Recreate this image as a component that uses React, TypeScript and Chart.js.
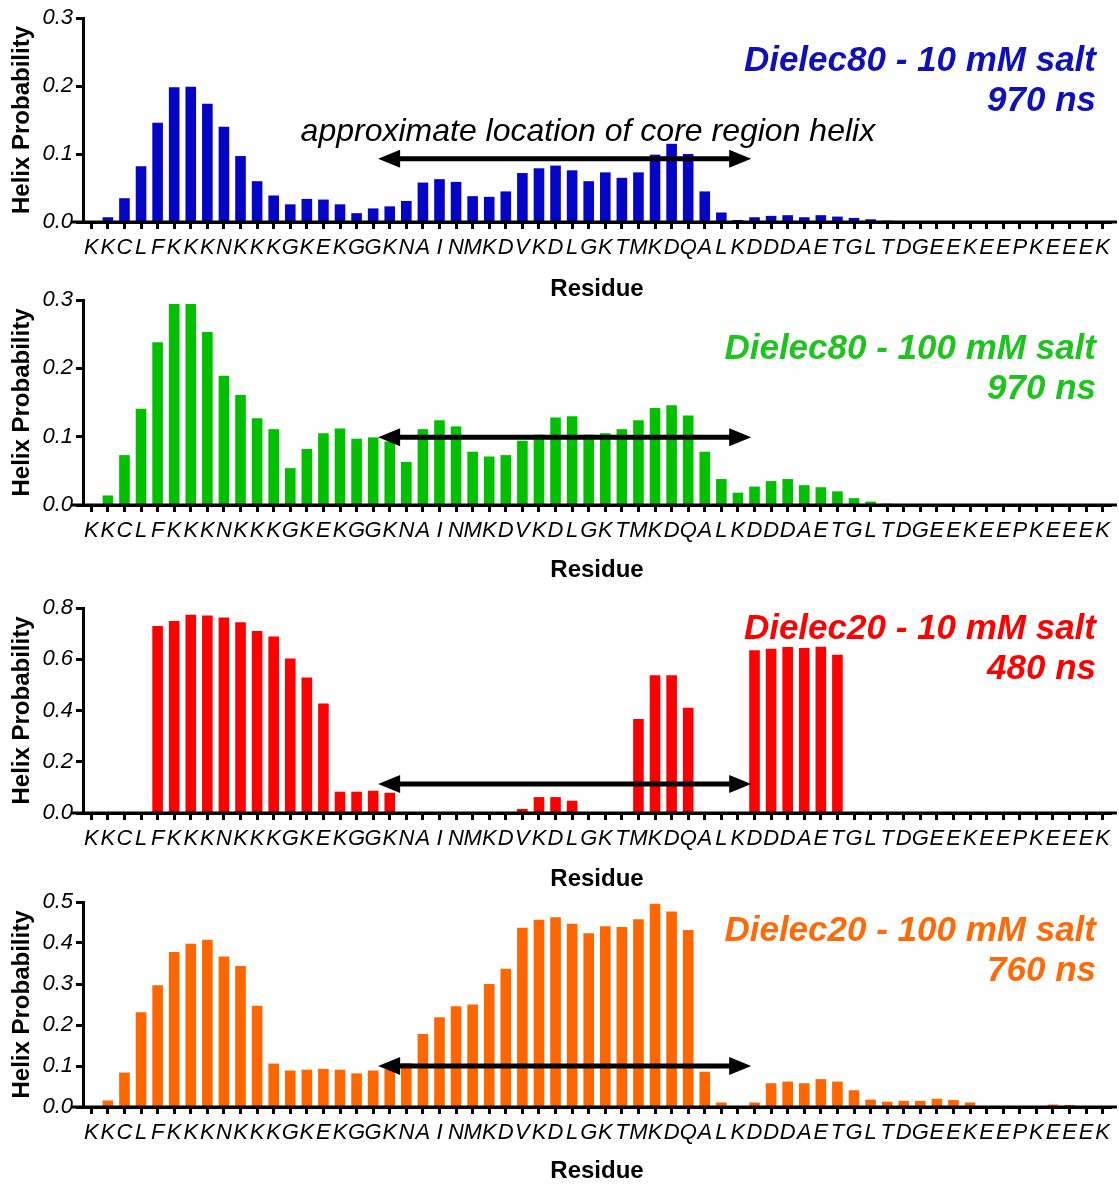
import React, { useEffect, useRef } from 'react';
import { Chart, registerables } from 'chart.js';

Chart.register(...registerables);

const FONT = '"Liberation Sans", Arial, Helvetica, sans-serif';

// ---------------- data ----------------
const residues = [
  'K', 'K', 'C', 'L', 'F', 'K', 'K', 'K', 'N', 'K',
  'K', 'K', 'G', 'K', 'E', 'K', 'G', 'G', 'K', 'N',
  'A', 'I', 'N', 'M', 'K', 'D', 'V', 'K', 'D', 'L',
  'G', 'K', 'T', 'M', 'K', 'D', 'Q', 'A', 'L', 'K',
  'D', 'D', 'D', 'A', 'E', 'T', 'G', 'L', 'T', 'D',
  'G', 'E', 'E', 'K', 'E', 'E', 'P', 'K', 'E', 'E',
  'E', 'K',
];

const dielec80Salt10 = [
  0, 0.007, 0.035, 0.082, 0.146, 0.198, 0.199, 0.174, 0.140, 0.097,
  0.060, 0.039, 0.026, 0.034, 0.033, 0.026, 0.013, 0.020, 0.023, 0.031,
  0.058, 0.063, 0.059, 0.038, 0.037, 0.045, 0.072, 0.079, 0.083, 0.076,
  0.060, 0.073, 0.065, 0.073, 0.099, 0.115, 0.100, 0.045, 0.014, 0.003,
  0.007, 0.009, 0.010, 0.007, 0.010, 0.008, 0.006, 0.004, 0.002, 0,
  0, 0, 0, 0, 0, 0, 0, 0, 0, 0,
  0, 0,
];

const dielec80Salt100 = [
  0, 0.014, 0.073, 0.141, 0.238, 0.294, 0.294, 0.253, 0.189, 0.161,
  0.127, 0.111, 0.054, 0.082, 0.105, 0.112, 0.097, 0.099, 0.093, 0.063,
  0.111, 0.124, 0.115, 0.078, 0.071, 0.073, 0.094, 0.103, 0.128, 0.130,
  0.103, 0.105, 0.111, 0.124, 0.142, 0.146, 0.131, 0.078, 0.038, 0.018,
  0.027, 0.035, 0.038, 0.029, 0.026, 0.020, 0.010, 0.005, 0.002, 0,
  0, 0, 0, 0, 0, 0, 0, 0, 0.001, 0.001,
  0, 0,
];

const dielec20Salt10 = [
  0, 0, 0, 0, 0.730, 0.749, 0.774, 0.771, 0.763, 0.744,
  0.710, 0.689, 0.603, 0.529, 0.427, 0.083, 0.083, 0.087, 0.079, 0.003,
  0, 0, 0, 0, 0, 0, 0.016, 0.062, 0.062, 0.048,
  0, 0, 0, 0.367, 0.538, 0.538, 0.411, 0, 0, 0,
  0.635, 0.641, 0.648, 0.644, 0.649, 0.618, 0.003, 0.002, 0, 0,
  0, 0, 0, 0, 0, 0, 0, 0, 0, 0,
  0, 0,
];

const dielec20Salt100 = [
  0, 0.016, 0.084, 0.231, 0.297, 0.378, 0.398, 0.408, 0.367, 0.344,
  0.247, 0.106, 0.089, 0.091, 0.093, 0.091, 0.082, 0.089, 0.092, 0.107,
  0.178, 0.219, 0.246, 0.250, 0.300, 0.337, 0.437, 0.457, 0.463, 0.447,
  0.424, 0.441, 0.439, 0.458, 0.496, 0.477, 0.432, 0.086, 0.011, 0.002,
  0.011, 0.058, 0.062, 0.058, 0.068, 0.062, 0.041, 0.018, 0.013, 0.015,
  0.015, 0.020, 0.017, 0.011, 0, 0, 0, 0, 0.006, 0.005,
  0, 0,
];

const panelTitles = [
  ['Dielec80 - 10 mM salt', '970 ns'],
  ['Dielec80 - 100 mM salt', '970 ns'],
  ['Dielec20 - 10 mM salt', '480 ns'],
  ['Dielec20 - 100 mM salt', '760 ns'],
];
const yMaxes = [0.3, 0.3, 0.8, 0.5];
const ySteps = [0.1, 0.1, 0.2, 0.1];

// core-region arrow, in residue-index units and probability units
const arrowStartIndex = 17.3;
const arrowEndIndex = 39.8;
const arrowLevels = [0.093, 0.099, 0.113, 0.1];

const noteText = 'approximate location of core region helix';
const noteIndex = 29.95;
const noteLevel = 0.132;

const seriesList = [dielec80Salt10, dielec80Salt100, dielec20Salt10, dielec20Salt100];

// ---------------- styles ----------------
const barColors = ['#0505c8', '#00c000', '#ff0000', '#ff6600'];
const titleColors = ['#1010b8', '#1ec41e', '#ff0000', '#ff6a08'];
const canvasTops = [0, 282, 590, 884];
const areaHeights = [204, 205, 205, 205];
const xAxisHeights = [82, 80, 81, 79];
const titleOffsets = [43, 49, 21, 29];
const PAD_TOP = 18;
const W = 1119;

function PanelChart({ i }: { i: number }) {
  const ref = useRef<HTMLCanvasElement>(null);
  const height = PAD_TOP + areaHeights[i] + xAxisHeights[i];

  useEffect(() => {
    const canvas = ref.current;
    if (!canvas) return;

    const decor = {
      id: 'decor' + i,
      afterDatasetsDraw(chart: any) {
        const { ctx, chartArea, scales } = chart;
        const x = scales.x;
        const y = scales.y;
        ctx.save();
        // x-axis line extended (GraphPad style)
        ctx.strokeStyle = '#000';
        ctx.lineWidth = 3;
        ctx.beginPath();
        ctx.moveTo(chartArea.left - 12, chartArea.bottom);
        ctx.lineTo(chartArea.right + 6, chartArea.bottom);
        ctx.stroke();

        // double-headed arrow
        const yA = y.getPixelForValue(arrowLevels[i]);
        const x1 = x.getPixelForValue(arrowStartIndex);
        const x2 = x.getPixelForValue(arrowEndIndex);
        const head = 22;
        const half = 9;
        ctx.lineWidth = 5;
        ctx.beginPath();
        ctx.moveTo(x1 + head - 2, yA);
        ctx.lineTo(x2 - head + 2, yA);
        ctx.stroke();
        ctx.fillStyle = '#000';
        ctx.beginPath();
        ctx.moveTo(x1, yA);
        ctx.lineTo(x1 + head, yA - half);
        ctx.lineTo(x1 + head, yA + half);
        ctx.closePath();
        ctx.fill();
        ctx.beginPath();
        ctx.moveTo(x2, yA);
        ctx.lineTo(x2 - head, yA - half);
        ctx.lineTo(x2 - head, yA + half);
        ctx.closePath();
        ctx.fill();

        // panel title
        ctx.font = `italic bold 35px ${FONT}`;
        ctx.textAlign = 'right';
        ctx.textBaseline = 'middle';
        ctx.fillStyle = titleColors[i];
        const tx = 1096;
        const ty = chartArea.top + titleOffsets[i];
        ctx.fillText(panelTitles[i][0], tx, ty);
        ctx.fillText(panelTitles[i][1], tx, ty + 40);

        // note (first panel only)
        if (i === 0) {
          ctx.font = `italic 32px ${FONT}`;
          ctx.textAlign = 'center';
          ctx.fillStyle = '#000';
          ctx.fillText(noteText, x.getPixelForValue(noteIndex), y.getPixelForValue(noteLevel));
        }
        ctx.restore();
      },
    };

    const chart = new Chart(canvas, {
      type: 'bar',
      data: {
        labels: residues,
        datasets: [
          {
            data: seriesList[i],
            backgroundColor: barColors[i],
            borderWidth: 0,
            barPercentage: 0.64,
            categoryPercentage: 1,
          },
        ],
      },
      options: {
        responsive: false,
        animation: false,
        devicePixelRatio: 1,
        layout: { padding: { top: PAD_TOP, left: 0, right: 8, bottom: 0 } },
        plugins: {
          legend: { display: false },
          tooltip: { enabled: false },
          title: { display: false },
        },
        scales: {
          x: {
            type: 'category',
            offset: true,
            grid: {
              display: true,
              drawOnChartArea: false,
              drawTicks: true,
              tickLength: 7,
              tickWidth: 3,
              tickColor: '#000',
              offset: false,
            },
            border: { display: true, color: '#000', width: 3 },
            ticks: {
              autoSkip: false,
              maxRotation: 0,
              minRotation: 0,
              color: '#000',
              padding: 6,
              font: { family: FONT, size: 22, style: 'italic' },
            },
            title: {
              display: true,
              text: 'Residue',
              color: '#000',
              padding: 0,
              font: { family: FONT, size: 24, weight: 'bold' },
            },
            afterFit: (s: any) => {
              s.height = xAxisHeights[i];
            },
          },
          y: {
            min: 0,
            max: yMaxes[i],
            ticks: {
              stepSize: ySteps[i],
              color: '#000',
              padding: 3,
              font: { family: FONT, size: 22, style: 'italic' },
              callback: (v: any) => Number(v).toFixed(1),
            },
            grid: {
              display: true,
              drawOnChartArea: false,
              drawTicks: true,
              tickLength: 7,
              tickWidth: 3,
              tickColor: '#000',
            },
            border: { display: true, color: '#000', width: 3 },
            title: {
              display: true,
              text: 'Helix Probability',
              color: '#000',
              padding: { top: 8, bottom: 0 },
              font: { family: FONT, size: 24, weight: 'bold' },
            },
            afterFit: (s: any) => {
              s.width = 83;
            },
          },
        },
      } as any,
      plugins: [decor],
    });
    return () => chart.destroy();
  }, [i]);

  return (
    <canvas
      ref={ref}
      width={W}
      height={height}
      style={{ position: 'absolute', left: 0, top: canvasTops[i], width: W, height }}
    />
  );
}

export default function App() {
  return (
    <div
      style={{
        position: 'absolute',
        left: 0,
        top: 0,
        width: W,
        height: 1186,
        background: '#fff',
        overflow: 'hidden',
      }}
    >
      {[0, 1, 2, 3].map((i) => (
        <PanelChart key={i} i={i} />
      ))}
    </div>
  );
}
